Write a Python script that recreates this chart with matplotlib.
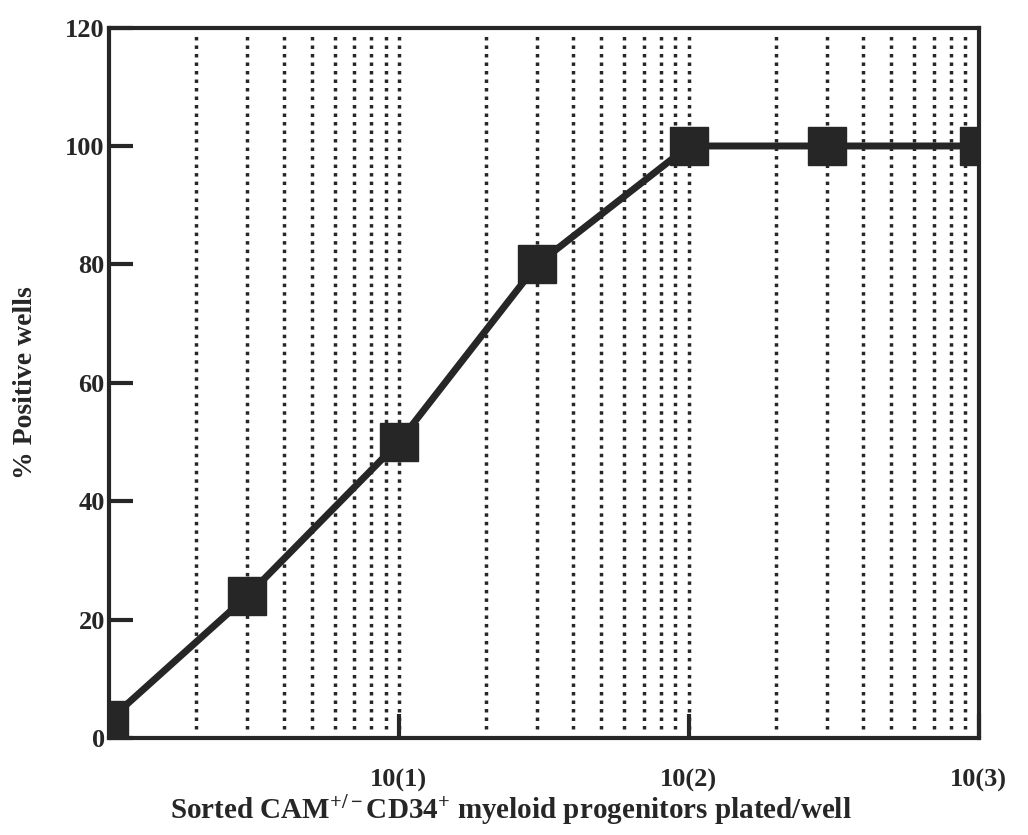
import matplotlib
matplotlib.use("Agg")
import matplotlib.pyplot as plt
import numpy as np

# Data
cells_per_well = [1, 3, 10, 30, 100, 300, 1000]
pct_positive = [3, 24, 50, 80, 100, 100, 100]
y_ticks = [0, 20, 40, 60, 80, 100, 120]
x_major = [10, 100, 1000]
x_major_labels = ["10(1)", "10(2)", "10(3)"]

plt.rcParams['font.family'] = ['Liberation Serif', 'DejaVu Serif']
plt.rcParams['font.weight'] = 'bold'
plt.rcParams['mathtext.fontset'] = 'custom'
plt.rcParams['mathtext.rm'] = 'Liberation Serif:bold'
plt.rcParams['mathtext.bf'] = 'Liberation Serif:bold'
plt.rcParams['mathtext.it'] = 'Liberation Serif:bold'

ink = '#262626'
fig = plt.figure(figsize=(10.28, 8.35), dpi=100)
ax = fig.add_axes([0.106, 0.116, 0.846, 0.851])
ax.set_xscale('log')
ax.set_xlim(1, 1000)
ax.set_ylim(0, 120)

# dotted grid lines at every decade sub-division
grid_x = [m * 10 ** k for k in range(3) for m in range(1, 10)]
grid_x = [g for g in grid_x if 1 < g < 1000]
ax.vlines(grid_x, 1.5, 118.5, colors=ink, linewidth=2.5,
          linestyles=[(0, (1, 1.45))], zorder=1)

ax.plot(cells_per_well, pct_positive, color=ink, linewidth=5,
        marker='s', markersize=27, markerfacecolor=ink,
        markeredgecolor=ink, zorder=3)

for s in ax.spines.values():
    s.set_linewidth(3)
    s.set_color(ink)

ax.set_yticks(y_ticks)
ax.set_yticklabels([str(v) for v in y_ticks])
ax.set_xticks(x_major)
ax.set_xticklabels(x_major_labels)
ax.xaxis.set_minor_locator(matplotlib.ticker.NullLocator())
ax.tick_params(axis='y', direction='in', length=17, width=3, color=ink,
               labelsize=19, pad=3, labelcolor=ink)
ax.tick_params(axis='x', direction='in', length=17, width=3, color=ink,
               labelsize=19, pad=22, labelcolor=ink)
for lbl in ax.get_xticklabels() + ax.get_yticklabels():
    lbl.set_fontweight('bold')

ax.set_xlabel(r'Sorted CAM$^{+/-}$CD34$^{+}$ myeloid progenitors plated/well',
              fontsize=21, fontweight='bold', color=ink)
ax.xaxis.set_label_coords(0.462, -0.078)
ax.set_ylabel('% Positive wells', fontsize=20, fontweight='bold', color=ink)
ax.yaxis.set_label_coords(-0.082, 0.5)

fig.savefig('out.png', dpi=100)
